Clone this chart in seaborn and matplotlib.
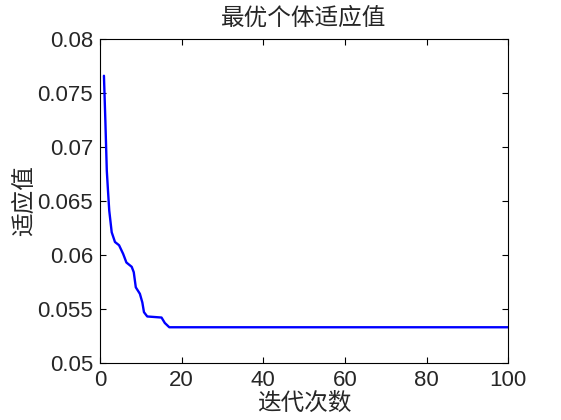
import numpy as np
import pandas as pd
import matplotlib
matplotlib.use("Agg")
import matplotlib.pyplot as plt
import seaborn as sns
from matplotlib.ticker import FormatStrFormatter

# values
iters = [1.0, 1.35, 1.7, 2.0, 2.3, 2.9, 3.7, 4.7, 5.7, 6.5, 7.8, 8.3, 8.8,
         9.8, 10.4, 10.8, 11.6, 15.1, 15.9, 17.0, 100.0]
fitness = [0.0766, 0.0724, 0.0678, 0.0659, 0.0641, 0.0621, 0.0612, 0.0609,
           0.0601, 0.0593, 0.0589, 0.0584, 0.0570, 0.0564, 0.0556, 0.0547,
           0.0543, 0.0542, 0.0537, 0.0533, 0.0533]
xticks = [0, 20, 40, 60, 80, 100]
yticks = [0.05, 0.055, 0.06, 0.065, 0.07, 0.075, 0.08]

title = "最优个体适应值"
xlabel = "迭代次数"
ylabel = "适应值"

df = pd.DataFrame({"iter": iters, "fit": fitness})

sns.set_style("ticks")
plt.rcParams['font.family'] = ['Liberation Sans', 'Noto Sans CJK SC', 'DejaVu Sans']
plt.rcParams['xtick.direction'] = 'in'
plt.rcParams['ytick.direction'] = 'in'

fig = plt.figure(figsize=(5.61, 4.2), dpi=100)
fig.patch.set_facecolor("white")
ax = fig.add_axes([0.178, 0.136, 0.728, 0.771])

sns.lineplot(data=df, x="iter", y="fit", color="#0000ff", linewidth=1.7,
             estimator=None, sort=False, ax=ax)

ax.set_xlim(0, 100)
ax.set_ylim(0.05, 0.08)
ax.set_xticks(xticks)
ax.set_yticks(yticks)
ax.yaxis.set_major_formatter(FormatStrFormatter('%g'))
ax.tick_params(axis='both', which='major', labelsize=16, length=4, width=0.8,
               top=True, right=True, pad=5, color='black')
for s in ax.spines.values():
    s.set_visible(True)
    s.set_linewidth(0.8)
    s.set_color('black')

cjk = ['Noto Sans CJK SC', 'DejaVu Sans']
ax.set_title(title, fontsize=17, family=cjk, pad=10)
ax.set_xlabel(xlabel, fontsize=17, family=cjk, labelpad=1)
ax.set_ylabel(ylabel, fontsize=17, family=cjk, labelpad=1)

fig.savefig("out.png", dpi=100, facecolor="white")
